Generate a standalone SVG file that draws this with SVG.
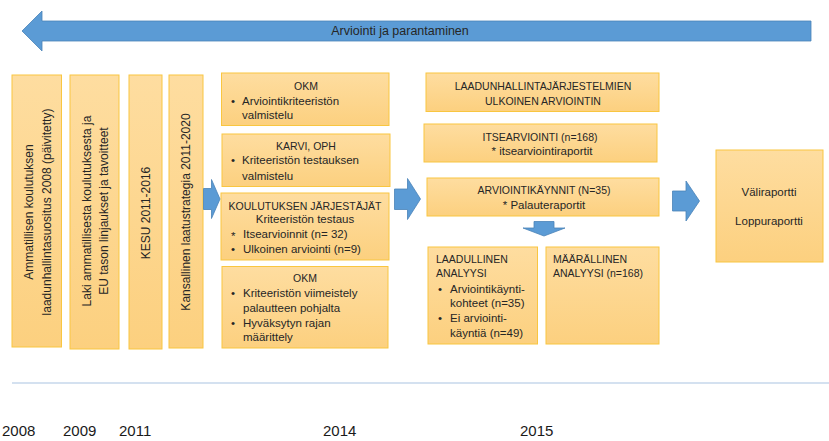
<svg xmlns="http://www.w3.org/2000/svg" width="829" height="441" viewBox="0 0 829 441">
<defs>
<linearGradient id="g" x1="0" y1="0" x2="0" y2="1">
<stop offset="0" stop-color="#fedda0"/>
<stop offset="1" stop-color="#fcd07f"/>
</linearGradient>
<style>
.box{fill:url(#g);stroke:#f9c640;stroke-width:1}
.arr{fill:#5b9bd5;stroke:#4a83b8;stroke-width:0.8}
text{font-family:"Liberation Sans",Arial,sans-serif;fill:#262626;font-size:11.5px}
.u{font-size:10.5px}
.v{font-size:12px;text-anchor:middle}
.c{text-anchor:middle}
.yr{font-size:15px;fill:#1a1a1a}
</style>
</defs>
<rect width="829" height="441" fill="#ffffff"/>

<g id="title-arrow">
<polygon class="arr" points="22,31 42,11 42,21 811,21 811,41 42,41 42,51"/>
<text x="400" y="35" class="c" style="font-size:12.5px">Arviointi ja parantaminen</text>
</g>

<g id="n-suositus">
<rect class="box" x="12" y="75" width="49.5" height="272"/>
<text class="v" transform="translate(33,212) rotate(-90)">Ammatillisen koulutuksen</text>
<text class="v" transform="translate(51,212) rotate(-90)">laadunhallintasuositus 2008 (päivitetty)</text>
</g>
<g id="n-laki">
<rect class="box" x="70" y="75" width="49" height="274"/>
<text class="v" transform="translate(91,211) rotate(-90)">Laki ammatillisesta koulutuksesta  ja</text>
<text class="v" transform="translate(108,211) rotate(-90)">EU tason linjaukset ja tavoitteet</text>
</g>
<g id="n-kesu">
<rect class="box" x="129" y="75" width="33" height="274"/>
<text class="v" transform="translate(150,213) rotate(-90)">KESU 2011-2016</text>
</g>
<g id="n-strategia">
<rect class="box" x="169" y="75" width="34" height="273"/>
<text class="v" transform="translate(190,212) rotate(-90)">Kansallinen laatustrategia 2011-2020</text>
</g>

<g id="n-okm1">
<rect class="box" x="221.5" y="73" width="167.5" height="52.5"/>
<text x="306" y="90" class="c u">OKM</text>
<text x="231" y="104.5">•</text><text x="242" y="104.5">Arviointikriteeristön</text>
<text x="242" y="118.5">valmistelu</text>
</g>
<g id="n-karvi">
<rect class="box" x="222" y="134" width="168" height="52.5"/>
<text x="306" y="149.5" class="c u">KARVI, OPH</text>
<text x="231" y="164">•</text><text x="242" y="164">Kriteeristön testauksen</text>
<text x="242" y="179.5">valmistelu</text>
</g>
<g id="n-koulutus">
<rect class="box" x="221" y="193" width="168" height="67"/>
<text x="305" y="209.5" class="c u">KOULUTUKSEN JÄRJESTÄJÄT</text>
<text x="305" y="223" class="c">Kriteeristön testaus</text>
<text x="231" y="240">*</text><text x="243" y="238">Itsearvioinnit (n= 32)</text>
<text x="231" y="253">•</text><text x="243" y="253">Ulkoinen arviointi (n=9)</text>
</g>
<g id="n-okm2">
<rect class="box" x="222" y="266.5" width="166" height="81.5"/>
<text x="305" y="282" class="c u">OKM</text>
<text x="231" y="297">•</text><text x="243" y="297">Kriteeristön viimeistely</text>
<text x="243" y="312">palautteen pohjalta</text>
<text x="231" y="327">•</text><text x="243" y="327">Hyväksytyn rajan</text>
<text x="243" y="341">määrittely</text>
</g>

<g id="n-laadun">
<rect class="box" x="426" y="73" width="233" height="38.5"/>
<text x="543" y="90" class="c u">LAADUNHALLINTAJÄRJESTELMIEN</text>
<text x="543" y="104.5" class="c u">ULKOINEN ARVIOINTIN</text>
</g>
<g id="n-itse">
<rect class="box" x="424" y="124" width="233" height="38"/>
<text x="540" y="140.5" class="c u">ITSEARVIOINTI (n=168)</text>
<text x="542" y="154.5" class="c">* itsearviointiraportit</text>
</g>
<g id="n-kaynnit">
<rect class="box" x="427" y="178" width="232" height="38"/>
<text x="544" y="194" class="c u">ARVIOINTIKÄYNNIT  (N=35)</text>
<text x="544" y="209" class="c">* Palauteraportit</text>
</g>
<g id="n-laadullinen">
<rect class="box" x="428" y="247" width="109.5" height="97"/>
<text x="436" y="263" class="u">LAADULLINEN</text>
<text x="436" y="277" class="u">ANALYYSI</text>
<text x="438" y="293">•</text><text x="450" y="293">Arviointikäynti-</text>
<text x="450" y="307">kohteet (n=35)</text>
<text x="438" y="322">•</text><text x="450" y="322">Ei arviointi-</text>
<text x="450" y="337">käyntiä (n=49)</text>
</g>
<g id="n-maarallinen">
<rect class="box" x="546" y="247" width="113" height="97"/>
<text x="553" y="263" class="u">MÄÄRÄLLINEN</text>
<text x="553" y="277" class="u">ANALYYSI (n=168)</text>
</g>
<g id="n-raportit">
<rect class="box" x="716" y="150" width="107" height="112"/>
<text x="769" y="195.5" class="c">Väliraportti</text>
<text x="769" y="224.5" class="c">Loppuraportti</text>
</g>

<g id="connectors">
<polygon class="arr" points="203.5,188.5 211.5,188.5 211.5,179.5 220,199 211.5,218.5 211.5,209.5 203.5,209.5"/>
<polygon class="arr" points="394.5,189 407.5,189 407.5,178.5 420.5,199 407.5,219.5 407.5,209.5 394.5,209.5"/>
<polygon class="arr" points="534,221.5 554,221.5 554,228 565,228 544,236 523,228 534,228"/>
<polygon class="arr" points="672.5,191 686,191 686,181 699.5,201 686,221 686,211 672.5,211"/>
</g>

<g id="timeline">
<line x1="12" y1="383" x2="829" y2="383" stroke="#a9c3e2" stroke-width="1.2"/>
<text x="2" y="436" class="yr">2008</text>
<text x="63" y="436" class="yr">2009</text>
<text x="119" y="436" class="yr">2011</text>
<text x="323" y="436" class="yr">2014</text>
<text x="520" y="436" class="yr">2015</text>
</g>
</svg>
